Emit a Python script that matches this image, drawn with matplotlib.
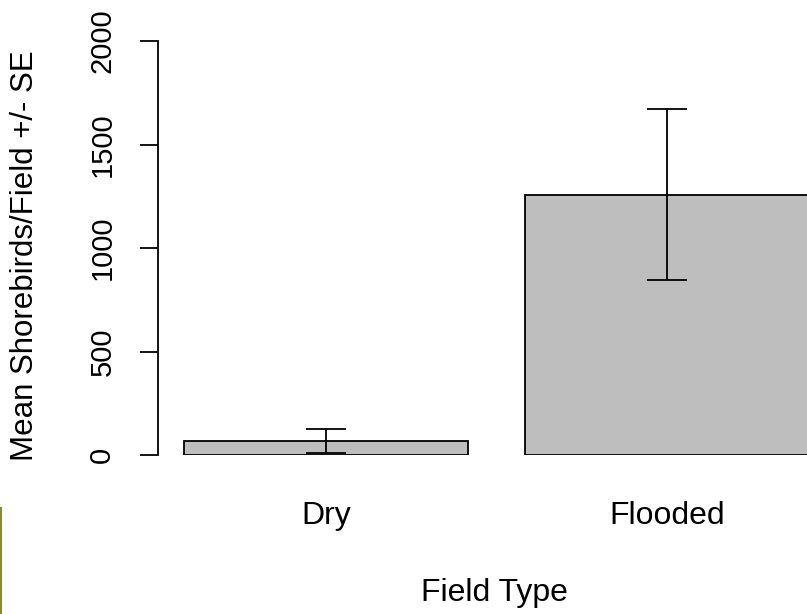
import matplotlib
matplotlib.use("Agg")
import matplotlib.pyplot as plt
from matplotlib.lines import Line2D

# datos
tipos = ["Dry", "Flooded"]
medias = [67, 1258]
errores = [57, 412]
posiciones = [0.7, 1.9]

plt.rcParams['font.family'] = ['Liberation Sans', 'DejaVu Sans']

fig = plt.figure(figsize=(8.07, 6.14), dpi=100)
W, H = 807, 614
ax = fig.add_axes([158 / W, (H - 455) / H, 1 - 158 / W, (455 - 41) / H])

ax.bar(posiciones, medias, width=1.0, color="#bebebe", edgecolor="black", linewidth=1.3)
ax.errorbar(posiciones, medias, yerr=errores, fmt="none", ecolor="black",
            elinewidth=1.3, capsize=14.4, capthick=1.3)

ax.set_xlim(0.1085, 2.394)
ax.set_ylim(0, 2000)
for s in ["top", "right", "bottom"]:
    ax.spines[s].set_visible(False)
ax.spines["left"].set_linewidth(1.3)
ax.spines["left"].set_bounds(0, 2000)
ax.set_xticks([])
ax.set_yticks([0, 500, 1000, 1500, 2000])
ax.set_yticklabels(["0", "500", "1000", "1500", "2000"], rotation=90, va="center", fontsize=21)
ax.tick_params(axis="y", length=13, width=1.3, pad=17)

# etiquetas de categorias y ejes
for p, t in zip(posiciones, tipos):
    x_fig = ax.transData.transform((p, 0))[0] / W
    fig.text(x_fig, 1 - 516 / H, t, ha="center", va="center", fontsize=23)
fig.text(494 / W, 1 - 593 / H, "Field Type", ha="center", va="center", fontsize=23)
fig.text(25 / W, 1 - 256 / H, "Mean Shorebirds/Field +/- SE", rotation=90,
         ha="center", va="center", fontsize=22.5)

# linea del borde (captura)
fig.add_artist(Line2D([1 / W, 1 / W], [0, 1 - 508 / H], color="#8c8c2a", linewidth=1.5))

fig.savefig("out.png", dpi=100)
